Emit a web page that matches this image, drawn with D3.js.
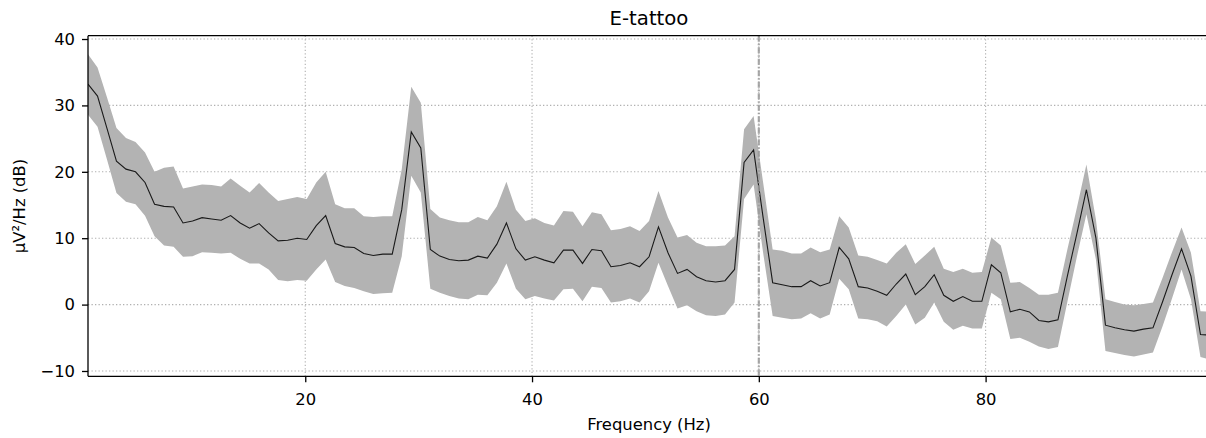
<!DOCTYPE html>
<html>
<head>
<meta charset="utf-8">
<script src="https://cdn.jsdelivr.net/npm/d3@7"></script>
<style>
  body { margin: 0; background: #fff; }
  svg { font-family: "DejaVu Sans", sans-serif; }
</style>
</head>
<body>
<svg id="psd"></svg>
<script>
// frequency bins (Hz)
var freqs = [0.84, 1.68, 2.52, 3.35, 4.19, 5.03, 5.87, 6.71, 7.55, 8.39,
  9.22, 10.06, 10.90, 11.74, 12.58, 13.42, 14.26, 15.09, 15.93, 16.77,
  17.61, 18.45, 19.29, 20.13, 20.97, 21.80, 22.64, 23.48, 24.32, 25.16,
  26.00, 26.84, 27.67, 28.51, 29.35, 30.19, 31.03, 31.87, 32.71, 33.54,
  34.38, 35.22, 36.06, 36.90, 37.74, 38.58, 39.41, 40.25, 41.09, 41.93,
  42.77, 43.61, 44.45, 45.28, 46.12, 46.96, 47.80, 48.64, 49.48, 50.32,
  51.15, 51.99, 52.83, 53.67, 54.51, 55.35, 56.19, 57.02, 57.86, 58.70,
  59.54, 60.38, 61.22, 62.06, 62.90, 63.73, 64.57, 65.41, 66.25, 67.09,
  67.93, 68.77, 69.60, 70.44, 71.28, 72.12, 72.96, 73.80, 74.64, 75.47,
  76.31, 77.15, 77.99, 78.83, 79.67, 80.51, 81.34, 82.18, 83.02, 83.86,
  84.70, 85.54, 86.38, 87.21, 88.05, 88.89, 89.73, 90.57, 91.41, 92.25,
  93.08, 93.92, 94.76, 95.60, 96.44, 97.28, 98.11, 98.95, 99.79]

// mean PSD (dB)
var psdMean = [33.2, 31.4, 26.5, 21.6, 20.4, 20.0, 18.4, 15.1, 14.8, 14.7,
  12.3, 12.6, 13.1, 12.9, 12.7, 13.4, 12.3, 11.5, 12.2, 10.8,
  9.6, 9.7, 10.0, 9.8, 11.9, 13.4, 9.2, 8.7, 8.6, 7.7,
  7.4, 7.6, 7.6, 14.3, 26.0, 23.6, 8.3, 7.3, 6.8, 6.6,
  6.7, 7.3, 7.0, 9.1, 12.3, 8.4, 6.7, 7.2, 6.7, 6.3,
  8.2, 8.2, 6.2, 8.3, 8.1, 5.7, 5.9, 6.3, 5.7, 7.2,
  11.7, 7.8, 4.7, 5.3, 4.2, 3.6, 3.4, 3.6, 5.3, 21.4,
  23.3, 13.1, 3.3, 3.0, 2.7, 2.7, 3.6, 2.8, 3.3, 8.6,
  6.9, 2.7, 2.5, 2.0, 1.4, 3.1, 4.6, 1.5, 2.7, 4.5,
  1.4, 0.5, 1.2, 0.5, 0.5, 6.0, 4.8, -1.1, -0.7, -1.1,
  -2.4, -2.6, -2.3, 4.3, 10.7, 17.3, 10.0, -3.1, -3.5, -3.8,
  -4.0, -3.7, -3.5, 0.4, 4.5, 8.4, 4.3, -4.5, -4.6]

// upper edge of shaded band (dB)
var psdUpper = [37.7, 35.7, 31.2, 26.6, 25.1, 24.5, 22.9, 20.0, 20.6, 20.8,
  17.5, 17.8, 18.1, 18.0, 17.8, 19.0, 17.9, 16.9, 18.3, 16.9,
  15.6, 15.9, 16.2, 15.9, 18.4, 20.0, 15.1, 14.5, 14.5, 13.3,
  13.2, 13.3, 13.3, 20.4, 32.8, 30.4, 14.4, 13.1, 12.7, 12.4,
  12.4, 13.2, 12.7, 14.8, 18.5, 14.3, 12.6, 13.0, 12.3, 11.9,
  14.1, 14.0, 11.8, 13.9, 13.6, 11.2, 11.4, 11.8, 11.1, 12.6,
  17.1, 13.1, 10.1, 10.5, 9.3, 8.8, 8.8, 8.9, 10.3, 26.4,
  28.4, 18.4, 8.3, 8.1, 7.7, 7.7, 8.6, 7.9, 8.3, 13.3,
  11.6, 7.4, 7.2, 6.7, 6.2, 7.8, 9.1, 6.1, 7.4, 8.7,
  5.4, 4.9, 5.4, 4.8, 4.9, 10.1, 8.9, 3.3, 3.4, 2.5,
  1.5, 1.5, 1.8, 8.3, 14.6, 21.1, 12.8, 0.8, 0.4, 0.0,
  -0.1, 0.1, 0.3, 4.0, 7.9, 11.6, 7.8, -1.0, -1.1]

// lower edge of shaded band (dB)
var psdLower = [28.6, 26.8, 21.8, 16.8, 15.5, 15.1, 13.4, 10.3, 8.9, 8.7,
  7.2, 7.3, 7.9, 7.8, 7.7, 7.8, 6.9, 6.2, 6.2, 5.3,
  3.7, 3.5, 3.7, 3.6, 5.3, 6.8, 3.4, 2.8, 2.5, 2.0,
  1.6, 1.7, 1.8, 7.3, 19.4, 16.9, 2.4, 1.8, 1.3, 0.9,
  0.8, 1.5, 1.4, 3.3, 6.2, 2.4, 0.8, 1.3, 0.9, 0.6,
  2.3, 2.4, 0.5, 2.7, 2.5, 0.3, 0.5, 0.9, 0.3, 2.0,
  6.3, 2.8, -0.6, -0.1, -1.0, -1.6, -1.7, -1.5, 0.3, 15.9,
  18.1, 7.8, -1.7, -2.0, -2.2, -2.1, -1.3, -2.1, -1.5, 3.9,
  2.3, -2.1, -2.2, -2.5, -3.3, -1.7, 0.0, -3.0, -2.0, 0.3,
  -2.6, -3.8, -3.2, -3.6, -3.6, 1.8, 0.8, -5.2, -5.0, -5.6,
  -6.3, -6.7, -6.4, 0.4, 7.2, 13.6, 6.8, -7.0, -7.3, -7.6,
  -7.8, -7.5, -7.2, -3.3, 0.9, 5.3, 0.8, -7.9, -8.3]

var xTicks = [20, 40, 60, 80]
var yTicks = [-10, 0, 10, 20, 30, 40]
var lineNoise = [60]

var dimensions = {
    width: 1206,
    height: 438,
    margin: { top: 35.7, bottom: 61.7, left: 88, right: -4 }
}

var plotLeft = dimensions.margin.left
var plotRight = dimensions.width - dimensions.margin.right
var plotTop = dimensions.margin.top
var plotBottom = dimensions.height - dimensions.margin.bottom

var svg = d3.select("#psd")
    .attr("width", dimensions.width)
    .attr("height", dimensions.height)

var xScale = d3.scaleLinear()
    .domain([freqs[0], freqs[freqs.length - 1]])
    .range([plotLeft, plotRight])

var yScale = d3.scaleLinear()
    .domain([-10.8, 40.5])
    .range([plotBottom, plotTop])

svg.append("clipPath").attr("id", "clip")
    .append("rect")
    .attr("x", plotLeft).attr("y", plotTop)
    .attr("width", plotRight - plotLeft).attr("height", plotBottom - plotTop)

var rows = freqs.map((f, i) => ({ f: f, m: psdMean[i], hi: psdUpper[i], lo: psdLower[i] }))

// grid
var grid = svg.append("g")
    .attr("stroke", "#b0b0b0")
    .attr("stroke-width", 1.1)
    .attr("stroke-dasharray", "1.3,2.2")
grid.selectAll(".gx").data(xTicks).enter().append("line")
    .attr("x1", d => xScale(d)).attr("x2", d => xScale(d))
    .attr("y1", plotTop).attr("y2", plotBottom)
grid.selectAll(".gy").data(yTicks).enter().append("line")
    .attr("x1", plotLeft).attr("x2", plotRight)
    .attr("y1", d => yScale(d)).attr("y2", d => yScale(d))

var plot = svg.append("g").attr("clip-path", "url(#clip)")

var band = d3.area()
    .x(d => xScale(d.f))
    .y0(d => yScale(d.lo))
    .y1(d => yScale(d.hi))

plot.append("path")
    .datum(rows)
    .attr("d", band)
    .attr("fill", "#b3b3b3")

var meanLine = d3.line()
    .x(d => xScale(d.f))
    .y(d => yScale(d.m))

plot.append("path")
    .datum(rows)
    .attr("d", meanLine)
    .attr("fill", "none")
    .attr("stroke", "#1a1a1a")
    .attr("stroke-width", 1.1)

// line noise marker
plot.selectAll(".noise").data(lineNoise).enter().append("line")
    .attr("x1", d => xScale(d)).attr("x2", d => xScale(d))
    .attr("y1", plotTop).attr("y2", plotBottom)
    .attr("stroke", "#999")
    .attr("stroke-opacity", 0.85)
    .attr("stroke-width", 2.2)
    .attr("stroke-dasharray", "6,2,1.5,2")

// axes
var xAxisGen = d3.axisBottom(xScale).tickValues(xTicks).tickSize(6).tickPadding(11).tickSizeOuter(0)
var xAxis = svg.append("g")
    .attr("transform", `translate(0,${plotBottom})`)
    .call(xAxisGen)
xAxis.select(".domain").remove()

var yAxisGen = d3.axisLeft(yScale).tickValues(yTicks).tickSize(6).tickPadding(7).tickSizeOuter(0)
    .tickFormat(d => d < 0 ? "\u2212" + Math.abs(d) : d)
var yAxis = svg.append("g")
    .attr("transform", `translate(${plotLeft},0)`)
    .call(yAxisGen)
yAxis.select(".domain").remove()

svg.selectAll(".tick text")
    .style("font-size", "16.4px")
    .style("font-family", "DejaVu Sans")
    .attr("fill", "#000")
svg.selectAll(".tick line").attr("stroke", "#000").attr("stroke-width", 1.3)

// spines (left, top, bottom)
var spines = svg.append("g").attr("stroke", "#000").attr("stroke-width", 1.3).attr("fill", "none")
spines.append("line").attr("x1", plotLeft).attr("x2", plotLeft).attr("y1", plotTop).attr("y2", plotBottom)
spines.append("line").attr("x1", plotLeft).attr("x2", plotRight).attr("y1", plotTop).attr("y2", plotTop)
spines.append("line").attr("x1", plotLeft).attr("x2", plotRight).attr("y1", plotBottom).attr("y2", plotBottom)
spines.append("line").attr("x1", plotRight).attr("x2", plotRight).attr("y1", plotTop).attr("y2", plotBottom)

// titles
svg.append("text")
    .attr("x", (plotLeft + plotRight) / 2)
    .attr("y", 25)
    .attr("text-anchor", "middle")
    .style("font-size", "19.7px")
    .text("E-tattoo")

svg.append("text")
    .attr("x", (plotLeft + plotRight) / 2)
    .attr("y", 430)
    .attr("text-anchor", "middle")
    .style("font-size", "16.4px")
    .text("Frequency (Hz)")

svg.append("text")
    .attr("transform", `translate(25,${(plotTop + plotBottom) / 2}) rotate(-90)`)
    .attr("text-anchor", "middle")
    .style("font-size", "16.4px")
    .text("µV²/Hz (dB)")
</script>
</body>
</html>
